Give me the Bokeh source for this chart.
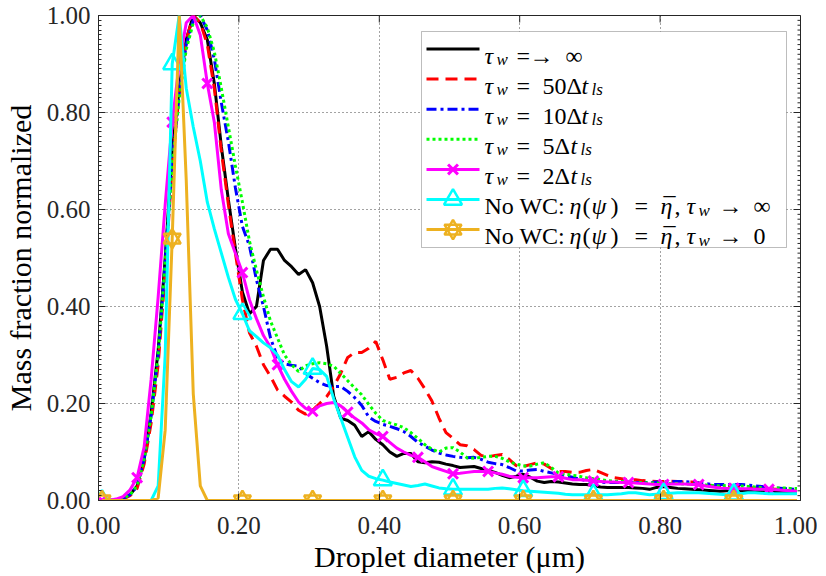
import numpy as np
from bokeh.plotting import figure
from bokeh.layouts import column
from bokeh.models import Range1d, FixedTicker, Label, BoxAnnotation, Spacer
from bokeh.embed import file_html
from bokeh.resources import INLINE

# ---------------- data ----------------
# droplet-diameter bin centres (um)
diameter = [round(0.005 + 0.01 * k, 3) for k in range(100)]

tau_inf = [0, 0, 0.001, 0.004, 0.012, 0.03, 0.085, 0.18, 0.31, 0.5,
           0.72, 0.85, 0.95, 1.0, 0.985, 0.95, 0.86, 0.73, 0.62, 0.52,
           0.43, 0.385, 0.40, 0.495, 0.518, 0.518, 0.495, 0.482, 0.466, 0.476,
           0.449, 0.40, 0.318, 0.215, 0.17, 0.165, 0.155, 0.132, 0.142, 0.126,
           0.115, 0.1, 0.091, 0.097, 0.097, 0.08, 0.078, 0.08, 0.079, 0.075,
           0.072, 0.068, 0.069, 0.07, 0.066, 0.062, 0.058, 0.052, 0.047, 0.05,
           0.054, 0.048, 0.04, 0.037, 0.039, 0.038, 0.036, 0.034, 0.033, 0.033,
           0.031, 0.028, 0.027, 0.027, 0.027, 0.027, 0.026, 0.025, 0.023, 0.027,
           0.029, 0.027, 0.025, 0.024, 0.023, 0.022, 0.021, 0.02, 0.019, 0.02,
           0.021, 0.02, 0.019, 0.018, 0.018, 0.017, 0.017, 0.016, 0.016, 0.015]

tau_50 = [0, 0, 0.001, 0.003, 0.01, 0.025, 0.075, 0.16, 0.28, 0.47,
          0.69, 0.84, 0.95, 1.0, 0.985, 0.94, 0.85, 0.72, 0.61, 0.51,
          0.414, 0.346, 0.318, 0.28, 0.256, 0.228, 0.215, 0.203, 0.186, 0.178,
          0.186, 0.2, 0.214, 0.235, 0.262, 0.295, 0.305, 0.305, 0.314, 0.328,
          0.29, 0.25, 0.254, 0.263, 0.268, 0.252, 0.23, 0.205, 0.17, 0.14,
          0.128, 0.115, 0.113, 0.105, 0.093, 0.09, 0.093, 0.095, 0.085, 0.072,
          0.07, 0.074, 0.078, 0.075, 0.066, 0.06, 0.06, 0.058, 0.058, 0.062,
          0.064, 0.058, 0.052, 0.047, 0.045, 0.043, 0.043, 0.041, 0.04, 0.039,
          0.039, 0.04, 0.039, 0.038, 0.038, 0.036, 0.033, 0.03, 0.029, 0.028,
          0.028, 0.027, 0.027, 0.026, 0.025, 0.024, 0.023, 0.021, 0.02, 0.019]

tau_10 = [0, 0, 0.001, 0.004, 0.012, 0.03, 0.085, 0.175, 0.3, 0.49,
          0.7, 0.84, 0.94, 0.99, 1.0, 0.97, 0.91, 0.82, 0.74, 0.645,
          0.565, 0.525, 0.455, 0.4, 0.335, 0.295, 0.282, 0.279, 0.277, 0.262,
          0.252, 0.243, 0.237, 0.235, 0.235, 0.225, 0.212, 0.196, 0.172, 0.163,
          0.157, 0.153, 0.148, 0.142, 0.132, 0.12, 0.112, 0.104, 0.098, 0.094,
          0.091, 0.089, 0.088, 0.089, 0.085, 0.079, 0.076, 0.074, 0.068, 0.061,
          0.061, 0.063, 0.064, 0.06, 0.057, 0.054, 0.051, 0.048, 0.044, 0.041,
          0.039, 0.038, 0.037, 0.037, 0.037, 0.037, 0.037, 0.037, 0.037, 0.038,
          0.039, 0.039, 0.039, 0.039, 0.038, 0.036, 0.035, 0.033, 0.033, 0.033,
          0.033, 0.033, 0.032, 0.03, 0.029, 0.027, 0.026, 0.025, 0.024, 0.023]

tau_5 = [0, 0, 0.001, 0.004, 0.012, 0.03, 0.085, 0.175, 0.3, 0.49,
         0.69, 0.83, 0.93, 0.985, 1.0, 0.975, 0.925, 0.85, 0.77, 0.69,
         0.615, 0.535, 0.475, 0.42, 0.37, 0.335, 0.3, 0.28, 0.266, 0.278,
         0.282, 0.284, 0.282, 0.277, 0.262, 0.247, 0.232, 0.218, 0.198, 0.18,
         0.165, 0.16, 0.156, 0.15, 0.14, 0.128, 0.115, 0.106, 0.1, 0.108,
         0.109, 0.1, 0.088, 0.087, 0.089, 0.091, 0.091, 0.087, 0.08, 0.075,
         0.071, 0.071, 0.075, 0.078, 0.068, 0.057, 0.054, 0.052, 0.05, 0.047,
         0.045, 0.043, 0.041, 0.04, 0.039, 0.038, 0.037, 0.037, 0.036, 0.036,
         0.036, 0.035, 0.035, 0.034, 0.034, 0.033, 0.032, 0.031, 0.03, 0.031,
         0.031, 0.03, 0.029, 0.028, 0.027, 0.027, 0.026, 0.026, 0.025, 0.025]

tau_2 = [0, 0, 0.003, 0.008, 0.022, 0.047, 0.11, 0.25, 0.42, 0.61,
         0.78, 0.9, 0.985, 1.0, 0.96, 0.86, 0.78, 0.64, 0.55, 0.51,
         0.47, 0.414, 0.375, 0.34, 0.316, 0.28, 0.25, 0.225, 0.203, 0.19,
         0.184, 0.195, 0.2, 0.202, 0.195, 0.182, 0.17, 0.16, 0.146, 0.138,
         0.132, 0.12, 0.108, 0.1, 0.093, 0.089, 0.08, 0.07, 0.065, 0.06,
         0.055, 0.056, 0.058, 0.06, 0.06, 0.06, 0.057, 0.054, 0.05, 0.048,
         0.047, 0.047, 0.047, 0.048, 0.049, 0.049, 0.046, 0.043, 0.043, 0.042,
         0.04, 0.039, 0.038, 0.038, 0.037, 0.037, 0.036, 0.035, 0.034, 0.033,
         0.033, 0.034, 0.034, 0.034, 0.033, 0.033, 0.03, 0.028, 0.026, 0.025,
         0.025, 0.024, 0.024, 0.023, 0.023, 0.023, 0.022, 0.021, 0.02, 0.019]

nowc_inf = [0, 0, 0, 0, 0, 0, 0, 0, 0.03, 0.3,
            0.9, 1.0, 0.85, 0.77, 0.7, 0.615, 0.56, 0.51, 0.46, 0.415,
            0.385, 0.35, 0.338, 0.325, 0.315, 0.3, 0.27, 0.245, 0.234, 0.25,
            0.272, 0.27, 0.256, 0.21, 0.17, 0.13, 0.09, 0.062, 0.05, 0.045,
            0.042, 0.038, 0.035, 0.032, 0.029, 0.031, 0.034, 0.03, 0.026, 0.024,
            0.023, 0.023, 0.023, 0.023, 0.023, 0.023, 0.025, 0.026, 0.024, 0.022,
            0.02, 0.019, 0.018, 0.017, 0.016, 0.015, 0.013, 0.012, 0.012, 0.012,
            0.012, 0.012, 0.012, 0.013, 0.014, 0.016, 0.016, 0.014, 0.012, 0.013,
            0.014, 0.015, 0.016, 0.016, 0.016, 0.016, 0.015, 0.014, 0.013, 0.012,
            0.013, 0.014, 0.016, 0.016, 0.015, 0.014, 0.014, 0.014, 0.014, 0.014]

nowc_0 = [0, 0, 0, 0, 0, 0, 0, 0, 0.005, 0.145,
          0.54, 1.0, 0.66, 0.22, 0.03, 0, 0, 0, 0, 0,
          0, 0, 0, 0, 0, 0, 0, 0, 0, 0,
          0, 0, 0, 0, 0, 0, 0, 0, 0, 0,
          0, 0, 0, 0, 0, 0, 0, 0, 0, 0,
          0, 0, 0, 0, 0, 0, 0, 0, 0, 0,
          0, 0, 0, 0, 0, 0, 0, 0, 0, 0,
          0, 0, 0, 0, 0, 0, 0, 0, 0, 0,
          0, 0, 0, 0, 0, 0, 0, 0, 0, 0,
          0, 0, 0, 0, 0, 0, 0, 0, 0, 0]

x_ticks = [0.0, 0.2, 0.4, 0.6, 0.8, 1.0]
x_tick_labels = ["0.00", "0.20", "0.40", "0.60", "0.80", "1.00"]
y_ticks = [0.0, 0.2, 0.4, 0.6, 0.8, 1.0]
y_tick_labels = ["0.00", "0.20", "0.40", "0.60", "0.80", "1.00"]
x_label = "Droplet diameter (\u03bcm)"
y_label = "Mass fraction normalized"

# ---------------- styling ----------------
FONT = "Liberation Serif"
AX = "#262626"
ORANGE = "#EDB120"
FW, FH = 702, 485          # frame size in px

p = figure(frame_width=FW, frame_height=FH,
           x_range=Range1d(0, 1), y_range=Range1d(0, 1),
           output_backend="svg", toolbar_location=None,
           min_border_left=91, min_border_right=17,
           min_border_top=11, min_border_bottom=0,
           background_fill_color="white", border_fill_color="white")
p.outline_line_color = AX
p.outline_line_width = 1

minor_y = [round(0.01 * k, 2) for k in range(101)]

def style_axis(ax, ticks, labels, minor):
    ax.ticker = FixedTicker(ticks=ticks, minor_ticks=minor)
    ax.major_label_overrides = dict(zip(ticks, labels))
    ax.axis_line_color = AX
    ax.axis_line_width = 1
    ax.major_tick_line_color = AX
    ax.major_tick_in = 7
    ax.major_tick_out = 0
    ax.minor_tick_line_color = AX
    ax.minor_tick_in = 3
    ax.minor_tick_out = 0
    ax.major_label_text_font = FONT
    ax.major_label_text_color = AX
    ax.major_label_text_font_size = "25px"

style_axis(p.xaxis[0], x_ticks, x_tick_labels, [])
style_axis(p.yaxis[0], y_ticks, y_tick_labels, minor_y)
p.xaxis[0].major_label_standoff = 16
p.yaxis[0].major_label_standoff = 8

for ax, lab, st in ((p.xaxis[0], x_label, 3), (p.yaxis[0], y_label, 7)):
    ax.axis_label = lab
    ax.axis_label_text_font = FONT
    ax.axis_label_text_font_size = "30px"
    ax.axis_label_text_font_style = "normal"
    ax.axis_label_text_color = "black"
    ax.axis_label_standoff = st

for g, t in ((p.xgrid[0], x_ticks), (p.ygrid[0], y_ticks)):
    g.ticker = FixedTicker(ticks=t)
    g.grid_line_color = AX
    g.grid_line_alpha = 0.85
    g.grid_line_dash = "1 3"
    g.grid_line_width = 1

# box ticks on the top and right edges (as MATLAB draws them)
n_x = len(x_ticks)
p.segment(x0=x_ticks, y0=[1.0] * n_x, x1=x_ticks, y1=[1.0 - 7 / FH] * n_x,
          line_color=AX, line_width=1)
n_y = len(y_ticks)
p.segment(x0=[1.0] * n_y, y0=y_ticks, x1=[1.0 - 7 / FW] * n_y, y1=y_ticks,
          line_color=AX, line_width=1)
n_m = len(minor_y)
p.segment(x0=[1.0] * n_m, y0=minor_y, x1=[1.0 - 3 / FW] * n_m, y1=minor_y,
          line_color=AX, line_width=1)

# ---------------- series ----------------
LW = 3
STYLES = [  # colour, dash, marker
    ("black", "solid", None),
    ("#FF0000", "12 7", None),
    ("#0000FF", "10 4 3 4", None),
    ("#00FF00", "3 3", None),
    ("#FF00FF", "solid", "x"),
    ("#00FFFF", "solid", "triangle"),
    (ORANGE, "solid", "hexagram"),
]
SERIES = [tau_inf, tau_50, tau_10, tau_5, tau_2, nowc_inf, nowc_0]
MARK_EVERY = {"x": 5, "triangle": 10, "hexagram": 10}

def draw_marker(xs, ys, col, mk):
    if mk == "x":
        p.scatter(xs, ys, marker="x", size=14, line_color=col, line_width=3)
    elif mk == "triangle":
        p.scatter(xs, ys, marker="triangle", size=18, line_color=col, line_width=2.5, fill_alpha=0)
    elif mk == "hexagram":
        for m in ("triangle", "inverted_triangle"):
            p.scatter(xs, ys, marker=m, size=17, line_color=col, line_width=2.5, fill_alpha=0)

for ys, (col, dash, mk) in zip(SERIES, STYLES):
    p.line(diameter, ys, line_color=col, line_width=LW, line_dash=dash)
    if mk:
        idx = list(range(0, len(diameter), MARK_EVERY[mk]))
        draw_marker([diameter[i] for i in idx], [ys[i] for i in idx], col, mk)

# ---------------- legend (box, samples and math-text runs) ----------------
# geometry in px measured from the frame's top-left corner
L_LEFT, L_RIGHT, L_TOP, L_BOTTOM = 323, 688, 16, 232
ROW0, ROW_STEP = 33.5, 30.1
S_X0, S_X1 = 328, 381

def fx(px):
    return px / FW

def fy(py):
    return 1 - py / FH

p.add_layout(BoxAnnotation(left=fx(L_LEFT), right=fx(L_RIGHT), top=fy(L_TOP), bottom=fy(L_BOTTOM),
                           fill_color="white", fill_alpha=1.0, line_color=AX, line_width=1,
                           level="underlay"))

for i, (col, dash, mk) in enumerate(STYLES):
    yy = fy(ROW0 + ROW_STEP * i)
    p.line([fx(S_X0), fx(S_X1)], [yy, yy], line_color=col, line_width=LW, line_dash=dash)
    if mk:
        draw_marker([fx((S_X0 + S_X1) / 2)], [yy], col, mk)

# runs: (row, x-offset in px from frame left, text, kind)
legend_runs = [
    (0, 386, "\u03c4", "it"), (0, 398, "w", "sub"), (0, 418, "=", "rm"), (0, 431, "\u2192", "rm"), (0, 467, "\u221e", "rm"),
    (1, 386, "\u03c4", "it"), (1, 398, "w", "sub"), (1, 418, "=", "rm"), (1, 444, "50\u0394", "rm"), (1, 483, "t", "it"), (1, 493, "ls", "sub"),
    (2, 386, "\u03c4", "it"), (2, 398, "w", "sub"), (2, 418, "=", "rm"), (2, 444, "10\u0394", "rm"), (2, 483, "t", "it"), (2, 493, "ls", "sub"),
    (3, 386, "\u03c4", "it"), (3, 398, "w", "sub"), (3, 418, "=", "rm"), (3, 444, "5\u0394", "rm"), (3, 472, "t", "it"), (3, 482, "ls", "sub"),
    (4, 386, "\u03c4", "it"), (4, 398, "w", "sub"), (4, 418, "=", "rm"), (4, 444, "2\u0394", "rm"), (4, 472, "t", "it"), (4, 482, "ls", "sub"),
]
for row, end in ((5, "\u221e"), (6, "0")):
    legend_runs += [
        (row, 386, "No WC:", "rm"), (row, 471, "\u03b7", "it"), (row, 484, "(", "rm"),
        (row, 493, "\u03c8", "it"), (row, 512, ")", "rm"), (row, 536, "=", "rm"),
        (row, 562, "\u03b7", "it"), (row, 565, "\u00af", "rm"), (row, 576, ",", "rm"),
        (row, 588, "\u03c4", "it"), (row, 600, "w", "sub"), (row, 620, "\u2192", "rm"),
        (row, 655, end, "rm"),
    ]

for row, xo, txt, kind in legend_runs:
    base = ROW0 + ROW_STEP * row + 6.5
    size, style = "24px", "normal"
    if kind == "it":
        style = "italic"
    elif kind == "sub":
        size, style = "17px", "italic"
        base += 4
    p.add_layout(Label(x=fx(xo), y=fy(base), text=txt, text_font=FONT,
                       text_font_size=size, text_font_style=style, text_color="black",
                       text_align="left", text_baseline="alphabetic"))

layout = column(Spacer(width=810, height=4), p, spacing=0)
open("out.html", "w").write(file_html(layout, INLINE))
